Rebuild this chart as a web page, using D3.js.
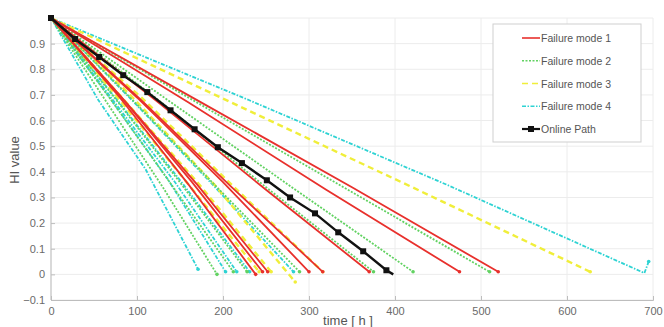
<!DOCTYPE html>
<html>
<head>
<meta charset="utf-8">
<script src="https://cdn.jsdelivr.net/npm/d3@7"></script>
<style>
  body { margin: 0; background: #fff; }
  svg { font-family: "Liberation Sans", Arial, sans-serif; }
</style>
</head>
<body>
<div id="chart"></div>
<script>
// HI degradation paths per failure mode, [time h, HI]
const mode1 = [
  [[0,1],[80,0.69],[160,0.35],[238,0]],
  [[0,1],[82,0.69],[164,0.36],[246,0.01]],
  [[0,1],[85,0.68],[170,0.35],[252,0.01]],
  [[0,1],[100,0.69],[200,0.36],[300,0.01]],
  [[0,1],[105,0.68],[210,0.34],[316,0.01]],
  [[0,1],[125,0.67],[250,0.33],[370,0.01]],
  [[0,1],[160,0.67],[320,0.33],[475,0.01]],
  [[0,1],[175,0.67],[350,0.34],[520,0.01]]
];
const mode2 = [
  [[0,1],[65,0.67],[130,0.34],[193,0]],
  [[0,1],[70,0.68],[140,0.35],[212,0.01]],
  [[0,1],[76,0.68],[152,0.35],[228,0.01]],
  [[0,1],[95,0.68],[190,0.35],[289,0.01]],
  [[0,1],[125,0.68],[250,0.34],[375,0.01]],
  [[0,1],[140,0.67],[280,0.34],[421,0.01]],
  [[0,1],[170,0.67],[340,0.34],[510,0.01]]
];
const mode3 = [
  [[0,1],[80,0.68],[160,0.35],[242,0.01]],
  [[0,1],[85,0.68],[170,0.36],[256,0.01]],
  [[0,1],[95,0.69],[190,0.35],[284,-0.03]],
  [[0,1],[105,0.69],[210,0.35],[316,0.01]],
  [[0,1],[210,0.67],[420,0.34],[627,0.01]]
];
const mode4 = [
  [[0,1],[55,0.68],[110,0.41],[171,0.02]],
  [[0,1],[68,0.69],[136,0.37],[203,0.01]],
  [[0,1],[72,0.68],[144,0.36],[216,0.01]],
  [[0,1],[77,0.68],[154,0.35],[231,0.01]],
  [[0,1],[94,0.68],[188,0.35],[282,0.01]],
  [[0,1],[230,0.68],[460,0.35],[690,0.005],[695,0.05]]
];
const onlinePath = [[0,1],[28,0.918],[56,0.848],[84,0.777],[112,0.711],[139,0.64],[167,0.566],
  [194,0.496],[222,0.434],[251,0.367],[278,0.30],[307,0.238],[334,0.164],[363,0.09],[390,0.016],[398,0]];

const xTicks = [0,100,200,300,400,500,600,700];
const yTicks = [-0.1,0,0.1,0.2,0.3,0.4,0.5,0.6,0.7,0.8,0.9];
const legendNames = ["Failure mode 1","Failure mode 2","Failure mode 3","Failure mode 4","Online Path"];

const styles = [
  { color: "#e8302c", width: 1.8, dash: null },
  { color: "#62d262", width: 1.8, dash: "2,1.5" },
  { color: "#f0ee3a", width: 2.4, dash: "6,4" },
  { color: "#2ed3d3", width: 1.8, dash: "4,1.5,1.5,1.5" }
];

const W = 664, H = 327;
const svg = d3.select("#chart").append("svg").attr("width", W).attr("height", H);

const x = d3.scaleLinear().domain([0,700]).range([51,653]);
const y = d3.scaleLinear().domain([-0.1,1]).range([300,18]);

// grid
svg.append("g").selectAll("line").data(xTicks).enter().append("line")
  .attr("x1", d => x(d)).attr("x2", d => x(d)).attr("y1", y(-0.1)).attr("y2", y(1))
  .attr("stroke", "#ececec").attr("stroke-width", 1);
svg.append("g").selectAll("line").data(yTicks.concat([1])).enter().append("line")
  .attr("x1", x(0)).attr("x2", x(700)).attr("y1", d => y(d)).attr("y2", d => y(d))
  .attr("stroke", "#ececec").attr("stroke-width", 1);

// axes
const xAxis = d3.axisBottom(x).tickValues(xTicks).tickSize(-4).tickPadding(7).tickFormat(d3.format("d"));
const yAxis = d3.axisLeft(y).tickValues(yTicks).tickSize(-4).tickPadding(6).tickFormat(d => d === 0 ? "0" : d3.format(".1f")(d));
const gx = svg.append("g").attr("transform", "translate(0," + y(-0.1) + ")").call(xAxis);
const gy = svg.append("g").attr("transform", "translate(" + x(0) + ",0)").call(yAxis);
[gx, gy].forEach(g => {
  g.select(".domain").attr("stroke", "#bdbdbd");
  g.selectAll(".tick line").attr("stroke", "#bdbdbd");
  g.selectAll(".tick text").attr("fill", "#6a6a6a").style("font-size", "11px");
});
gy.select(".domain").attr("d", "M0," + y(-0.1) + "V" + y(1));

svg.append("text").attr("transform", "translate(19," + 160 + ") rotate(-90)")
  .attr("text-anchor", "middle").attr("fill", "#555").style("font-size", "13px").text("HI value");
svg.append("text").attr("x", 348).attr("y", 325)
  .attr("text-anchor", "middle").attr("fill", "#555").style("font-size", "13px").text("time [ h ]");

const line = d3.line().x(d => x(d[0])).y(d => y(d[1]));

// draw modes in reverse so red sits on top
const modes = [mode1, mode2, mode3, mode4];
[3,2,1,0].forEach(i => {
  const st = styles[i];
  const g = svg.append("g");
  g.selectAll("path").data(modes[i]).enter().append("path")
    .attr("d", line).attr("fill", "none")
    .attr("stroke", st.color).attr("stroke-width", st.width)
    .attr("stroke-dasharray", st.dash);
  g.selectAll("circle").data(modes[i]).enter().append("circle")
    .attr("cx", d => x(d[d.length-1][0])).attr("cy", d => y(d[d.length-1][1]))
    .attr("r", 1.8).attr("fill", st.color);
});

// online path
svg.append("path").datum(onlinePath).attr("d", line).attr("fill", "none")
  .attr("stroke", "#111").attr("stroke-width", 2.4);
svg.append("g").selectAll("rect").data(onlinePath.slice(0, -1)).enter().append("rect")
  .attr("x", d => x(d[0]) - 3).attr("y", d => y(d[1]) - 3)
  .attr("width", 6).attr("height", 6).attr("fill", "#111");

// legend
const lg = svg.append("g");
lg.append("rect").attr("x", 493).attr("y", 24).attr("width", 148).attr("height", 118)
  .attr("fill", "#fff").attr("stroke", "#cfcfcf");
const ly = d3.scalePoint().domain(legendNames).range([38, 129]);
legendNames.forEach((name, i) => {
  const yy = ly(name);
  if (i < 4) {
    const st = styles[i];
    lg.append("line").attr("x1", 522).attr("x2", 540).attr("y1", yy).attr("y2", yy)
      .attr("stroke", st.color).attr("stroke-width", 1.6).attr("stroke-dasharray", st.dash);
  } else {
    lg.append("line").attr("x1", 522).attr("x2", 540).attr("y1", yy).attr("y2", yy)
      .attr("stroke", "#111").attr("stroke-width", 2.2);
    lg.append("rect").attr("x", 528).attr("y", yy - 3).attr("width", 6).attr("height", 6).attr("fill", "#111");
  }
  lg.append("text").attr("x", 541).attr("y", yy + 4).attr("fill", "#555")
    .style("font-size", "10.5px").text(name);
});
</script>
</body>
</html>
